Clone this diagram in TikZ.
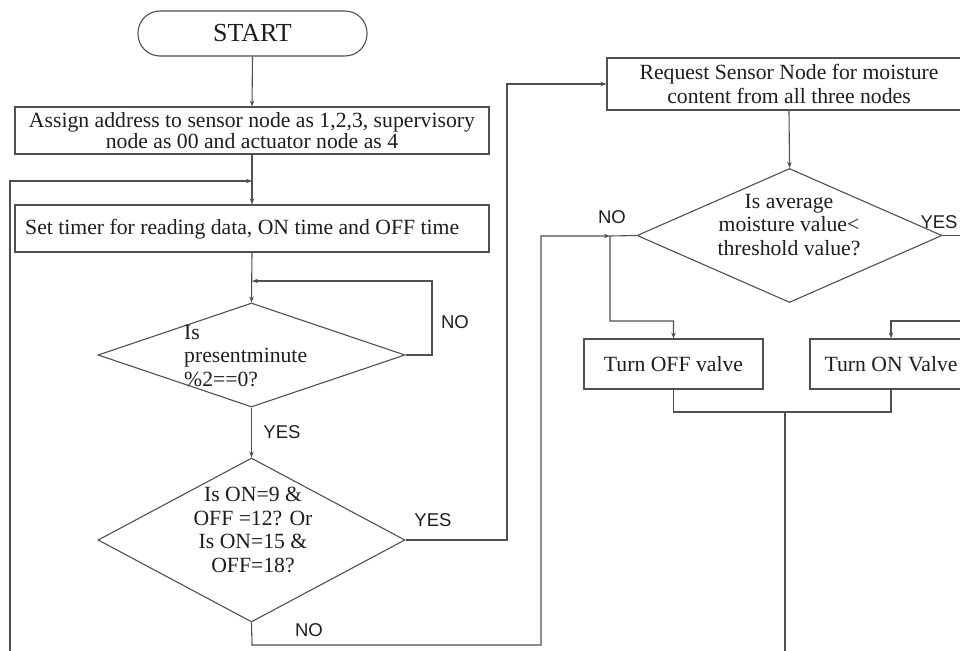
\documentclass[tikz,border=0pt]{standalone}
\usepackage{fontspec}
\setmainfont{Liberation Serif}
\newfontfamily\labfont{Liberation Sans}
\usetikzlibrary{shapes.geometric,arrows.meta}
\definecolor{lc}{HTML}{505050}
\definecolor{tc}{HTML}{1E1E1E}
\newcommand\mainsz{\fontsize{21.7}{23.5}\selectfont}
\newcommand\startsz{\fontsize{26}{28}\selectfont}
\newcommand\labsz{\labfont\fontsize{18.5}{20}\selectfont}
\tikzset{
  box/.style={draw=lc, line width=1.1pt, rectangle, inner sep=0pt, font=\mainsz, text=tc, align=center},
  dia/.style={draw=lc, line width=1.1pt, diamond, inner sep=0pt},
  conn/.style={draw=lc, line width=1.1pt},
  arr/.style={conn, -{Stealth[length=6pt,width=4.5pt]}},
  lab/.style={font=\labsz, text=tc, inner sep=0pt},
  dtext/.style={font=\mainsz, text=tc, inner sep=0pt, align=center},
}
\begin{document}
\begin{tikzpicture}[x=1pt,y=-1pt]
\useasboundingbox (0,0) rectangle (960,650);
\clip (0,0) rectangle (960,650);
\fill[white] (0,0) rectangle (960,650);

% left column
\node[box, rounded corners=22pt, minimum width=229pt, minimum height=45pt, font=\startsz] (start) at (252.5,33.5) {START};
\node[box, minimum width=474pt, minimum height=47pt] (assign) at (252,130.5)
  {Assign address to sensor node as 1,2,3, supervisory\\[-2.5pt]node as 00 and actuator node as 4};
\node[box, minimum width=474pt, minimum height=47pt] (timer) at (252,228.5) {};
\node[dtext, anchor=west] (timert) at (25,229) {Set timer for reading data, ON time and OFF time};
\node[dia, minimum width=307pt, minimum height=104pt] (d1) at (251.5,355) {};
\node[dtext, anchor=west, align=left] (d1t) at (184,356) {Is\\presentminute\\\%2==0?};
\node[dia, minimum width=307pt, minimum height=164pt] (d2) at (251.5,540) {};
\node[dtext] (d2t) at (253,530) {Is ON=9 \&\\OFF =12? Or\\Is ON=15 \&\\OFF=18?};

% right column
\node[box, minimum width=364pt, minimum height=52pt] (req) at (789,84)
  {Request Sensor Node for moisture\\content from all three nodes};
\node[dia, minimum width=305pt, minimum height=134pt] (d3) at (789.5,235.5) {};
\node[dtext] (d3t) at (789,225) {Is average\\moisture value<\\threshold value?};
\node[box, minimum width=179pt, minimum height=50pt] (off) at (673.5,364) {Turn OFF valve};
\node[box, minimum width=162pt, minimum height=50pt] (on) at (891,364) {Turn ON Valve};

% helper coordinates
\coordinate (loopin) at (252,181);
\coordinate (d1in) at (252,281);
\coordinate (j) at (785,412);
\coordinate (nojoin) at (610,236);

% connectors
\draw[arr] (start.south) -- (assign.north);
\draw[arr] (assign.south) -- (timer.north);
\draw[arr] (timer.south) -- (d1.north);
\draw[arr] (d1.east) -- (432,355) -- (432,281) -- (d1in);
\draw[arr] (d1.south) -- (d2.north);
\draw[arr] (d2.east) -- (507,540) -- (507,84) -- (req.west);
\draw[arr] (d2.south) -- (252,645) -- (541,645) -- (541,236) -- (nojoin);
\draw[arr] (req.south) -- (d3.north);
\draw[arr] (d3.west) -- (nojoin) -- (610,321) -- (673.5,321) -- (off.north);
\draw[arr] (d3.east) -- (975,235.5) -- (975,321) -- (891,321) -- (on.north);
\draw[conn] (off.south) -- (673.5,412) -- (891,412) -- (on.south);
\draw[arr] (j) -- (785,665) -- (10,665) -- (10,181) -- (loopin);

% labels
\node[lab] (l1) at (455,322) {NO};
\node[lab] (l2) at (282,432) {YES};
\node[lab] (l3) at (433,520) {YES};
\node[lab] (l4) at (309,630) {NO};
\node[lab] (l5) at (612,217) {NO};
\node[lab] (l6) at (939,222) {YES};
\end{tikzpicture}
\end{document}
